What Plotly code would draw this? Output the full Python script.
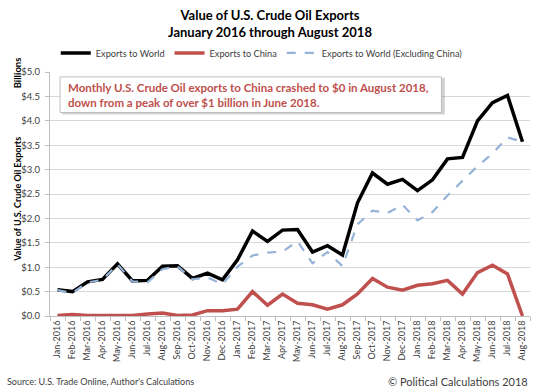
import plotly.graph_objects as go

months = ["Jan", "Feb", "Mar", "Apr", "May", "Jun", "Jul", "Aug", "Sep", "Oct", "Nov", "Dec"]
categories = [f"{m}-{y}" for y in (2016, 2017) for m in months] + [f"{m}-2018" for m in months[:8]]

exports_world = [0.54, 0.50, 0.70, 0.75, 1.07, 0.72, 0.73, 1.02, 1.03, 0.77, 0.88, 0.74,
                 1.15, 1.74, 1.53, 1.76, 1.77, 1.31, 1.44, 1.25, 2.32, 2.93, 2.70, 2.80,
                 2.57, 2.79, 3.22, 3.25, 4.00, 4.37, 4.52, 3.57]
exports_china = [0.01, 0.03, 0.01, 0.01, 0.01, 0.01, 0.04, 0.06, 0.01, 0.02, 0.11, 0.11,
                 0.14, 0.50, 0.22, 0.45, 0.26, 0.23, 0.14, 0.23, 0.45, 0.77, 0.59, 0.53,
                 0.63, 0.66, 0.73, 0.45, 0.89, 1.04, 0.86, 0.00]
exports_excl_china = [0.53, 0.47, 0.69, 0.74, 1.06, 0.71, 0.69, 0.96, 1.02, 0.75, 0.79, 0.65,
                      1.01, 1.24, 1.30, 1.32, 1.53, 1.08, 1.31, 1.02, 1.88, 2.16, 2.11, 2.28,
                      1.96, 2.13, 2.47, 2.78, 3.07, 3.33, 3.66, 3.57]
y_ticks = [0, 0.5, 1.0, 1.5, 2.0, 2.5, 3.0, 3.5, 4.0, 4.5, 5.0]
y_tick_labels = [f"${v:.1f}" for v in y_ticks]

FONT = "Lato"

fig = go.Figure()
fig.add_trace(go.Scatter(x=categories, y=exports_world, mode="lines", name="Exports to World",
                         line=dict(color="#000000", width=3.5)))
fig.add_trace(go.Scatter(x=categories, y=exports_china, mode="lines", name="Exports to China",
                         line=dict(color="#C0504D", width=3.5)))
fig.add_trace(go.Scatter(x=categories, y=exports_excl_china, mode="lines",
                         name="Exports to World (Excluding China)",
                         line=dict(color="#95B3D7", width=2.2, dash="dash")))

fig.update_layout(
    width=540, height=392,
    margin=dict(l=49.5, r=10, t=72, b=76),
    paper_bgcolor="white", plot_bgcolor="white",
    font=dict(family=FONT, color="#404040"),
    showlegend=True,
    legend=dict(orientation="h", x=0.012, y=1.078, xanchor="left", yanchor="middle",
                font=dict(size=9.2, color="#404040", family=FONT),
                itemwidth=30, tracegroupgap=0, bgcolor="rgba(0,0,0,0)"),
    title=dict(text="<b>Value of U.S. Crude Oil Exports<br>January 2016 through August 2018</b>",
               x=0.5, xanchor="center", y=0.95, yanchor="middle",
               font=dict(size=13, color="#000000", family=FONT)),
    xaxis=dict(type="category", categoryorder="array", categoryarray=categories,
               tickangle=-90, tickfont=dict(size=9, color="#404040", family=FONT),
               showgrid=False, showline=True, linecolor="#BFBFBF", linewidth=1,
               ticks="outside", ticklen=4, tickcolor="#BFBFBF", tickson="boundaries",
               range=[-0.5, len(categories) - 0.5], fixedrange=True),
    yaxis=dict(range=[0, 5], tickvals=y_ticks, ticktext=y_tick_labels,
               tickfont=dict(size=9.5, color="#404040", family=FONT),
               showgrid=True, gridcolor="#D9D9D9", gridwidth=1,
               showline=True, linecolor="#BFBFBF", linewidth=1,
               ticks="outside", ticklen=4, tickcolor="#BFBFBF", ticklabelstandoff=3,
               zeroline=False, fixedrange=True),
)

# Axis titles
fig.add_annotation(text="<b>Billions</b>", xref="paper", yref="paper", x=-0.067, y=0.998,
                   textangle=-90, showarrow=False, xanchor="center", yanchor="middle",
                   font=dict(size=9.5, color="#000000", family=FONT))
fig.add_annotation(text="<b>Value of U.S. Crude Oil Exports</b>", xref="paper", yref="paper",
                   x=-0.067, y=0.48, textangle=-90, showarrow=False,
                   xanchor="center", yanchor="middle",
                   font=dict(size=9, color="#000000", family=FONT))

# Callout box with shadow
fig.add_shape(type="rect", xref="paper", yref="paper", x0=0.0255, x1=0.8225, y0=0.826, y1=0.976,
              line=dict(width=0), fillcolor="rgba(0,0,0,0.18)", layer="above")
fig.add_shape(type="rect", xref="paper", yref="paper", x0=0.021, x1=0.8155, y0=0.834, y1=0.98,
              line=dict(color="#BFBFBF", width=1), fillcolor="white", layer="above")
fig.add_annotation(text="<b>Monthly U.S. Crude Oil exports to China crashed to $0 in August 2018,<br>"
                        "down from a peak of over $1 billion in June 2018.</b>",
                   xref="paper", yref="paper", x=0.034, y=0.907, xanchor="left", yanchor="middle",
                   align="left", showarrow=False,
                   font=dict(size=11.5, color="#C0504D", family=FONT))

# Footer
fig.add_annotation(text="Source: U.S. Trade Online, Author's Calculations", xref="paper", yref="paper",
                   x=-0.093, y=-0.27, xanchor="left", yanchor="middle", showarrow=False,
                   font=dict(size=9, color="#404040", family=FONT))
fig.add_annotation(text="© Political Calculations 2018", xref="paper", yref="paper",
                   x=1.0, y=-0.27, xanchor="right", yanchor="middle", showarrow=False,
                   font=dict(size=11, color="#404040", family=FONT))

fig.write_html("out.html", config={"displayModeBar": False},
               post_script="document.body.style.margin='0';")
